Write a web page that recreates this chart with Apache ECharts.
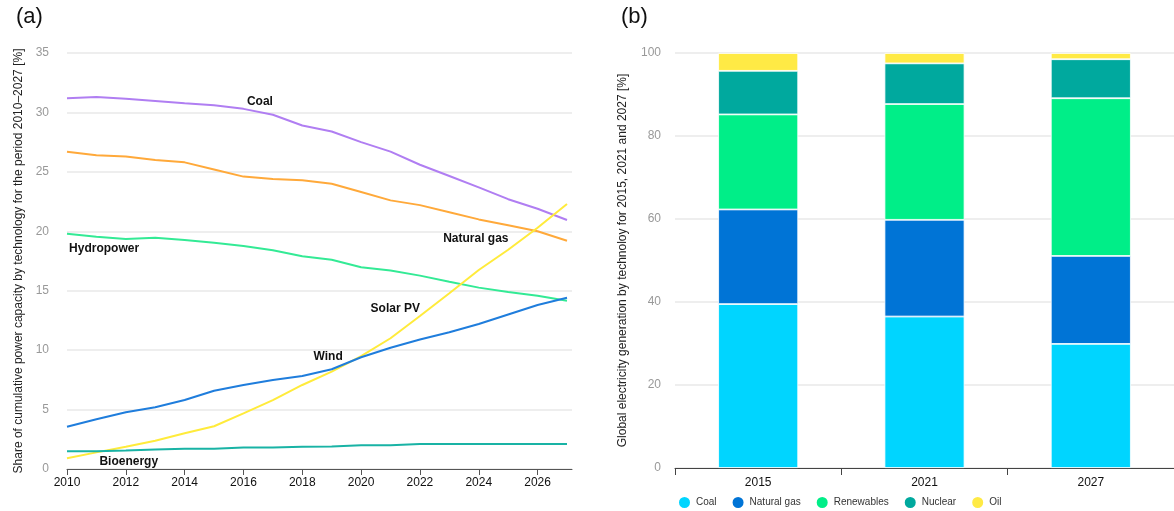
<!DOCTYPE html>
<html>
<head>
<meta charset="utf-8">
<script src="https://cdn.jsdelivr.net/npm/echarts@6/dist/echarts.min.js"></script>
<style>
html,body{margin:0;padding:0;background:#fff;}
#main{width:1174px;height:511px;}
</style>
</head>
<body>
<div id="main"></div>
<script>
// ---------- Panel (a) data ----------
const years = [2010,2011,2012,2013,2014,2015,2016,2017,2018,2019,2020,2021,2022,2023,2024,2025,2026,2027];
const coal       = [31.2,31.3,31.15,30.96,30.77,30.6,30.3,29.8,28.9,28.4,27.5,26.7,25.6,24.65,23.7,22.7,21.9,20.95];
const naturalGas = [26.7,26.4,26.3,26.0,25.8,25.2,24.6,24.4,24.3,24.0,23.3,22.6,22.2,21.6,21.0,20.5,20.0,19.2];
const hydropower = [19.8,19.55,19.35,19.46,19.27,19.04,18.76,18.4,17.9,17.6,16.97,16.7,16.27,15.76,15.26,14.9,14.58,14.16];
const wind       = [3.56,4.18,4.77,5.19,5.8,6.59,7.07,7.49,7.82,8.39,9.4,10.2,10.9,11.5,12.2,13.0,13.8,14.4];
const solarPV    = [0.9,1.4,1.88,2.38,3.0,3.6,4.68,5.8,7.07,8.19,9.5,11.0,12.87,14.78,16.74,18.45,20.3,22.3];
const bioenergy  = [1.5,1.5,1.55,1.65,1.7,1.7,1.8,1.8,1.88,1.9,2.0,2.0,2.1,2.1,2.1,2.1,2.1,2.1];
const xTickYears = [2010,2012,2014,2016,2018,2020,2022,2024,2026];

// ---------- Panel (b) data ----------
const genYears   = ['2015','2021','2027'];
const genCoal    = [39.5,36.5,29.9];
const genGas     = [22.8,23.3,21.2];
const genRenew   = [22.9,27.9,38.0];
const genNuclear = [10.5,9.8,9.4];
const genOil     = [4.3,2.5,1.5];

const FONT = "'Liberation Sans', Arial, sans-serif";

const barColors = {
  'Coal':'#00d5ff', 'Natural gas':'#0074d6', 'Renewables':'#00ee88',
  'Nuclear':'#00a99e', 'Oil':'#ffea45'
};

function pairs(vals){ return years.map((y,i)=>[y, vals[i]]); }

function lineSeries(name, vals, color, labelCoord){
  return {
    name: name + ' (capacity)', type:'line', xAxisIndex:0, yAxisIndex:0,
    data: pairs(vals), showSymbol:false, symbol:'none', smooth:false,
    lineStyle:{color, width:2}, itemStyle:{color},
    silent:true, z:3,
    markPoint:{
      silent:true, symbol:'circle', symbolSize:0,
      data:[{coord:labelCoord, value:0}],
      label:{show:true, position:'inside', formatter:name, color:'#111',
             fontWeight:'bold', fontSize:12, fontFamily:FONT}
    }
  };
}

function barSeries(name, vals){
  return {
    name, type:'bar', stack:'gen', xAxisIndex:1, yAxisIndex:1,
    data: vals, barWidth:80,
    itemStyle:{color:barColors[name], borderColor:'#ffffff', borderWidth:0.8},
    silent:true
  };
}

const chart = echarts.init(document.getElementById('main'), null, {renderer:'canvas'});
chart.setOption({
  backgroundColor:'#fff',
  animation:false,
  textStyle:{fontFamily:FONT},
  graphic:[
    {type:'text', left:16, top:6, style:{text:'(a)', fontSize:22, fontFamily:FONT, fill:'#111'}},
    {type:'text', left:621, top:6, style:{text:'(b)', fontSize:22, fontFamily:FONT, fill:'#111'}}
  ],
  legend:{
    show:true, left:672, top:490, icon:'circle', itemWidth:13, itemHeight:13, itemGap:14,
    data:Object.keys(barColors).map(n=>({name:n, itemStyle:{color:barColors[n]}})),
    textStyle:{fontSize:10, color:'#333', fontFamily:FONT}
  },
  grid:[
    {left:67, top:53, width:505, height:416},
    {left:675, top:53, width:502, height:415}
  ],
  xAxis:[
    {type:'value', gridIndex:0, min:2010, max:2027.17,
     axisLine:{show:true, lineStyle:{color:'#555', width:1}},
     axisTick:{show:true, length:6, customValues:xTickYears, lineStyle:{color:'#555'}},
     axisLabel:{customValues:xTickYears, color:'#111', fontSize:12, fontFamily:FONT, margin:8,
                formatter:v=>String(v)},
     splitLine:{show:false}},
    {type:'category', gridIndex:1, data:genYears,
     axisLine:{show:true, lineStyle:{color:'#444', width:1}},
     axisTick:{show:true, length:7, lineStyle:{color:'#444'}},
     axisLabel:{color:'#111', fontSize:12, fontFamily:FONT, margin:9},
     splitLine:{show:false}}
  ],
  yAxis:[
    {type:'value', gridIndex:0, min:0, max:35, interval:5,
     name:'Share of cumulative power capacity by technology for the period 2010\u20132027 [%]',
     nameLocation:'middle', nameGap:42, nameRotate:90,
     nameTextStyle:{fontSize:12, color:'#222', fontFamily:FONT},
     axisLine:{show:false}, axisTick:{show:false},
     axisLabel:{color:'#999', fontSize:12, fontFamily:FONT, margin:18},
     splitLine:{show:true, lineStyle:{color:'#e8e8e8', width:1.5}}},
    {type:'value', gridIndex:1, min:0, max:100, interval:20,
     name:'Global electricity generation by technoloy for 2015, 2021 and 2027 [%]',
     nameLocation:'middle', nameGap:46, nameRotate:90,
     nameTextStyle:{fontSize:12, color:'#222', fontFamily:FONT},
     axisLine:{show:false}, axisTick:{show:false},
     axisLabel:{color:'#999', fontSize:12, fontFamily:FONT, margin:14},
     splitLine:{show:true, lineStyle:{color:'#e8e8e8', width:1.5}}}
  ],
  series:[
    lineSeries('Coal', coal, '#b07ef2', [2016.56, 30.9]),
    lineSeries('Natural gas', naturalGas, '#ffa93a', [2023.9, 19.4]),
    lineSeries('Hydropower', hydropower, '#33ea95', [2011.26, 18.5]),
    lineSeries('Solar PV', solarPV, '#ffeb3b', [2021.16, 13.46]),
    lineSeries('Wind', wind, '#1f7ddc', [2018.88, 9.42]),
    lineSeries('Bioenergy', bioenergy, '#19b3a5', [2012.1, 0.59]),
    barSeries('Coal', genCoal),
    barSeries('Natural gas', genGas),
    barSeries('Renewables', genRenew),
    barSeries('Nuclear', genNuclear),
    barSeries('Oil', genOil)
  ]
});
</script>
</body>
</html>
